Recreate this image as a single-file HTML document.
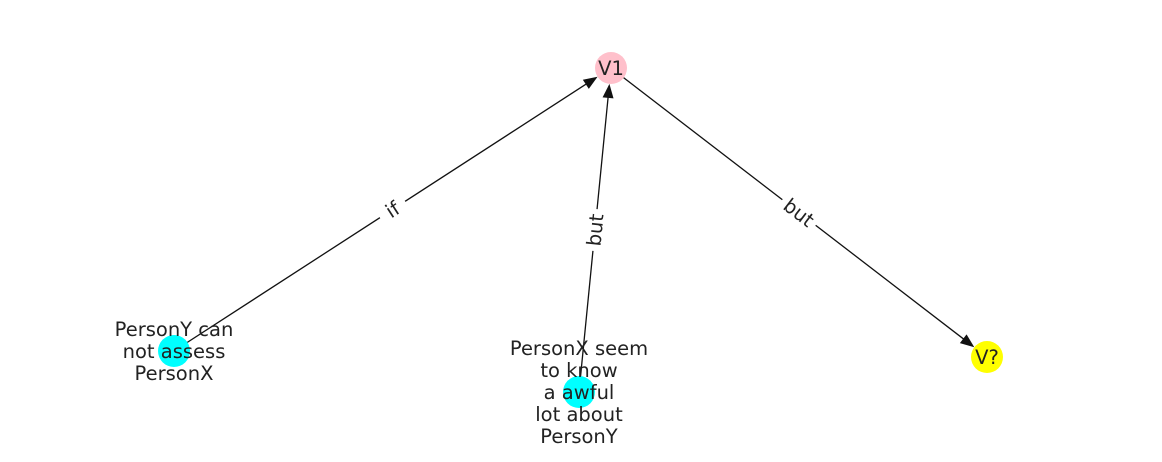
<!DOCTYPE html>
<html><head><meta charset="utf-8"><style>
html,body{margin:0;padding:0;background:#fff;}
svg{display:block;font-family:"DejaVu Sans","Liberation Sans",sans-serif;}
</style></head><body>
<svg id="g" width="1162" height="462" viewBox="0 0 1162 462"></svg>
<script>
const nodeIds = ["V1","PY","PX","VQ"];
const nodeLabels = [["V1"],["PersonY can","not assess","PersonX"],["PersonX seem","to know","a awful","lot about","PersonY"],["V?"]];
const nodeColors = ["#ffc0cb","#00ffff","#00ffff","#ffff00"];
const nodeX = [611,174,579,987];
const nodeY = [68,351,392,357];
const edgeFrom = [1,2,0];
const edgeTo = [0,0,3];
const edgeLabels = ["if","but","but"];
const NS="http://www.w3.org/2000/svg";
const svg=document.getElementById('g');
function mk(t,a){const e=document.createElementNS(NS,t);for(const k in a)e.setAttribute(k,a[k]);return e;}
const R=16, FS=19.5;
edgeFrom.forEach((f,i)=>{
  const t=edgeTo[i];
  const x1=nodeX[f],y1=nodeY[f],x2=nodeX[t],y2=nodeY[t];
  const dx=x2-x1,dy=y2-y1,L=Math.hypot(dx,dy),ux=dx/L,uy=dy/L;
  const tx=x2-ux*R,ty=y2-uy*R;
  const line=mk('line',{x1:x1,y1:y1,x2:tx-ux*12,y2:ty-uy*12,stroke:'#111','stroke-width':1.3});
  
  
  svg.appendChild(line);
  const bx=tx-ux*14,by=ty-uy*14,px=-uy*5.5,py=ux*5.5;
  const arr=mk('polygon',{points:`${tx},${ty} ${bx+px},${by+py} ${bx-px},${by-py}`,fill:'#111'});
  
  
  svg.appendChild(arr);
  let ang=Math.atan2(dy,dx)*180/Math.PI;
  if(ang>90)ang-=180; if(ang<-90)ang+=180;
  const mx=(x1+x2)/2,my=(y1+y2)/2;
  const g=mk('g',{transform:`translate(${mx},${my}) rotate(${ang})`});
  
  
  const w=edgeLabels[i].length*12+6;
  g.appendChild(mk('rect',{x:-w/2,y:-13,width:w,height:26,fill:'#fff'}));
  const tt=mk('text',{x:0,y:7,'text-anchor':'middle','font-size':FS,fill:'#222'});
  tt.textContent=edgeLabels[i];
  g.appendChild(tt);
  svg.appendChild(g);
});
nodeIds.forEach((id,i)=>{
  const c=mk('circle',{cx:nodeX[i],cy:nodeY[i],r:R,fill:nodeColors[i]});
  
  
  svg.appendChild(c);
  const lines=nodeLabels[i],n=lines.length,lh=22;
  lines.forEach((s,j)=>{
    const t=mk('text',{x:nodeX[i],y:nodeY[i]+(j-(n-1)/2)*lh+7,'text-anchor':'middle','font-size':FS,fill:'#222'});
    
    
    t.textContent=s;
    svg.appendChild(t);
  });
});
</script>
</body></html>
